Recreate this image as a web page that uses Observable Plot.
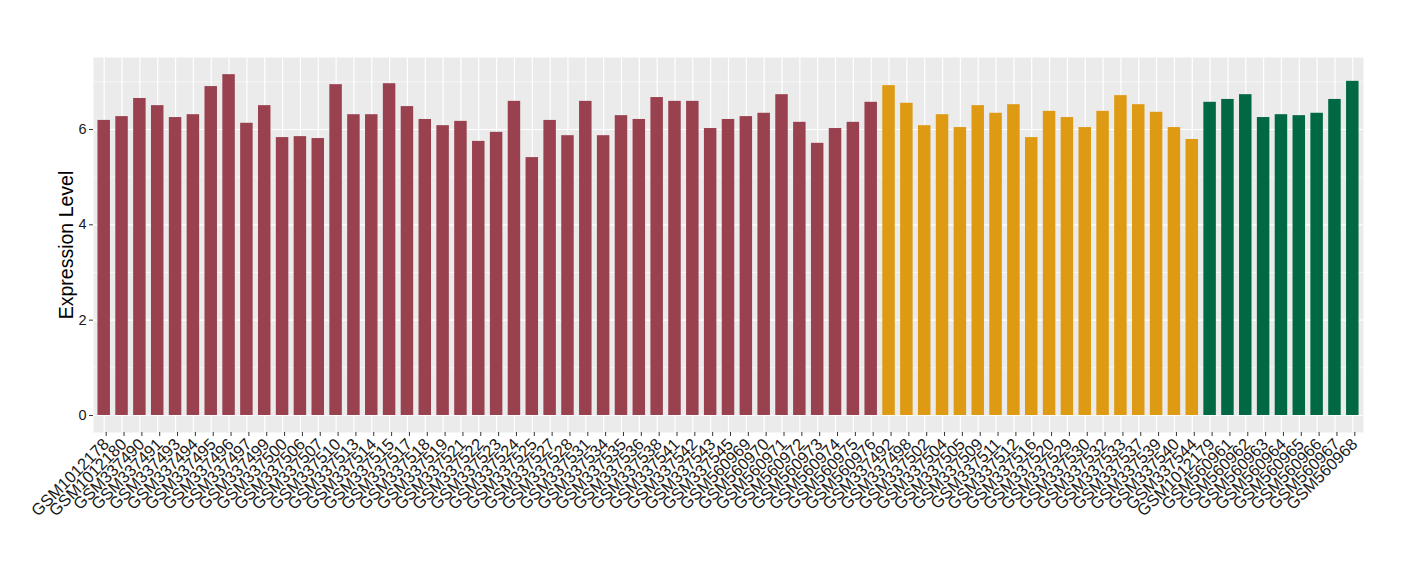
<!DOCTYPE html>
<html>
<head>
<meta charset="utf-8">
<script src="https://cdn.jsdelivr.net/npm/d3@7"></script>
<script src="https://cdn.jsdelivr.net/npm/@observablehq/plot@0.6"></script>
<style>
  html, body { margin: 0; padding: 0; background: white; }
</style>
</head>
<body>
<div id="chart"></div>
<script>
const samples = [
  "GSM1012178","GSM1012180","GSM337490","GSM337491","GSM337493","GSM337494","GSM337495","GSM337496",
  "GSM337497","GSM337499","GSM337500","GSM337506","GSM337507","GSM337510","GSM337513","GSM337514",
  "GSM337515","GSM337517","GSM337518","GSM337519","GSM337521","GSM337522","GSM337523","GSM337524",
  "GSM337525","GSM337527","GSM337528","GSM337531","GSM337534","GSM337535","GSM337536","GSM337538",
  "GSM337541","GSM337542","GSM337543","GSM337545","GSM560969","GSM560970","GSM560971","GSM560972",
  "GSM560973","GSM560974","GSM560975","GSM560976",
  "GSM337492","GSM337498","GSM337502","GSM337504","GSM337505","GSM337509","GSM337511","GSM337512",
  "GSM337516","GSM337520","GSM337529","GSM337530","GSM337532","GSM337533","GSM337537","GSM337539",
  "GSM337540","GSM337544",
  "GSM1012179","GSM560961","GSM560962","GSM560963","GSM560964","GSM560965","GSM560966","GSM560967",
  "GSM560968"
];
const values = [
  6.19,6.27,6.65,6.50,6.25,6.31,6.90,7.15,
  6.13,6.50,5.83,5.85,5.81,6.94,6.31,6.31,
  6.96,6.48,6.21,6.08,6.17,5.75,5.94,6.59,
  5.41,6.19,5.87,6.59,5.87,6.29,6.21,6.67,
  6.59,6.59,6.02,6.21,6.27,6.34,6.73,6.15,
  5.71,6.02,6.15,6.57,
  6.92,6.55,6.08,6.31,6.04,6.50,6.34,6.52,
  5.83,6.38,6.25,6.04,6.38,6.71,6.52,6.36,
  6.04,5.79,
  6.57,6.63,6.73,6.25,6.31,6.29,6.34,6.63,
  7.01
];
const groupNames = ["A","B","C"];
const groupSizes = [44, 18, 9];
const groupColors = ["#9A4150", "#DE9A13", "#006843"];
const yTicks = [0, 2, 4, 6];
const yMinor = [1, 3, 5, 7];
const yLabel = "Expression Level";

const groups = groupNames.flatMap((g, i) => Array(groupSizes[i]).fill(g));
const data = samples.map((s, i) => ({sample: s, value: values[i], group: groups[i]}));

const chart = Plot.plot({
  width: 1420,
  height: 580,
  marginLeft: 93,
  marginRight: 57,
  marginTop: 57,
  marginBottom: 148,
  style: {fontFamily: "'Liberation Sans', Arial, sans-serif", background: "white", color: "#333"},
  x: {domain: samples, paddingInner: 0.3, paddingOuter: 0.25, label: null},
  y: {domain: [-0.357, 7.51], label: null},
  color: {domain: groupNames, range: groupColors},
  marks: [
    Plot.frame({fill: "#EBEBEB", stroke: null}),
    Plot.ruleY(yMinor, {stroke: "white", strokeWidth: 0.6}),
    Plot.ruleY(yTicks, {stroke: "white", strokeWidth: 1.2}),
    Plot.gridX({stroke: "white", strokeOpacity: 1, strokeWidth: 1.2}),
    Plot.barY(data, {x: "sample", y: "value", fill: "group"}),
    Plot.axisY({ticks: yTicks, tickSize: 4, tickPadding: 3, fontSize: 14.5, label: null, fill: "#1a1a1a", stroke: "#333"}),
    Plot.axisX({tickRotate: -45, tickSize: 4, tickPadding: 5, dx: 2, fontSize: 16.5, label: null, fill: "#1a1a1a", stroke: "#333"}),
    Plot.text([yLabel], {frameAnchor: "left", rotate: -90, dx: -27, textAnchor: "middle", lineAnchor: "middle", fontSize: 19.5, fill: "black"})
  ]
});
document.getElementById("chart").appendChild(chart);
</script>
</body>
</html>
